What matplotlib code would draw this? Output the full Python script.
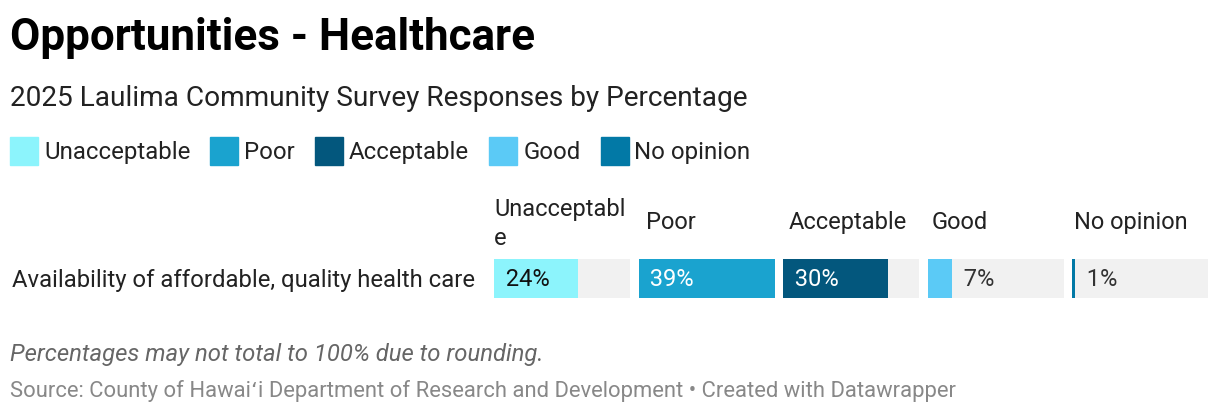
import matplotlib

matplotlib.use("Agg")
import matplotlib.pyplot as plt

plt.rcParams["font.family"] = ["Roboto", "DejaVu Sans"]

title = "Opportunities - Healthcare"
subtitle = "2025 Laulima Community Survey Responses by Percentage"
note = "Percentages may not total to 100% due to rounding."
source = "Source: County of Hawaiʻi Department of Research and Development • Created with Datawrapper"

row_label = "Availability of affordable, quality health care"
categories = ["Unacceptable", "Poor", "Acceptable", "Good", "No opinion"]
headers = ["Unacceptabl\ne", "Poor", "Acceptable", "Good", "No opinion"]
values = [24, 39, 30, 7, 1]
colors = ["#8cf4fc", "#1aa3cf", "#03577d", "#5bcaf6", "#0279a6"]
text_colors = ["#111111", "#ffffff", "#ffffff", "#333333", "#333333"]

W, H = 1220, 414
fig = plt.figure(figsize=(W / 100, H / 100), dpi=100)


def fx(px):
    return px / W


def fy(py):
    return 1 - py / H


fig.text(fx(10), fy(38), title, fontsize=31.7, fontweight="bold", color="#000000", va="center")
fig.text(fx(10), fy(99), subtitle, fontsize=20.2, color="#222222", va="center")

# legend
lx = 10
for cat, col in zip(categories, colors):
    fig.patches.append(plt.Rectangle((fx(lx), fy(166)), fx(28), 28 / H, transform=fig.transFigure,
                                     color=col))
    t = fig.text(fx(lx + 34), fy(153), cat, fontsize=17.3, color="#222222", va="center")
    fig.canvas.draw()
    bb = t.get_window_extent()
    lx = bb.x1 + 20

fig.text(fx(12), fy(280), row_label, fontsize=17.2, color="#222222", va="center")

vmax = max(values)
x0, pw, gap = 494, 136, 8.5
for i, (hdr, v, col, tc) in enumerate(zip(headers, values, colors, text_colors)):
    left = x0 + i * (pw + gap)
    ax = fig.add_axes([fx(left), fy(299), fx(pw), 39 / H])
    ax.barh([0], [vmax], color="#f1f1f1", height=1)
    ax.barh([0], [v], color=col, height=1)
    ax.set_xlim(0, vmax)
    ax.set_ylim(-0.5, 0.5)
    ax.axis("off")
    label = f"{v}%"
    if v / vmax > 0.3:
        ax.text(0, 0, "  " + label, color=tc, fontsize=17, va="center", ha="left")
    else:
        ax.text(v, 0, "  " + label, color=tc, fontsize=17, va="center", ha="left")
    if "\n" in hdr:
        fig.text(fx(left), fy(224), hdr, fontsize=17, color="#222222", va="center",
                 linespacing=1.3)
    else:
        fig.text(fx(left + 10 - 2 * i), fy(223), hdr, fontsize=17, color="#222222", va="center")

fig.text(fx(10), fy(355), note, fontsize=17.2, style="italic", color="#666666", va="center")
fig.text(fx(10), fy(391), source, fontsize=15.85, color="#888888", va="center")

fig.savefig("out.png", dpi=100)
